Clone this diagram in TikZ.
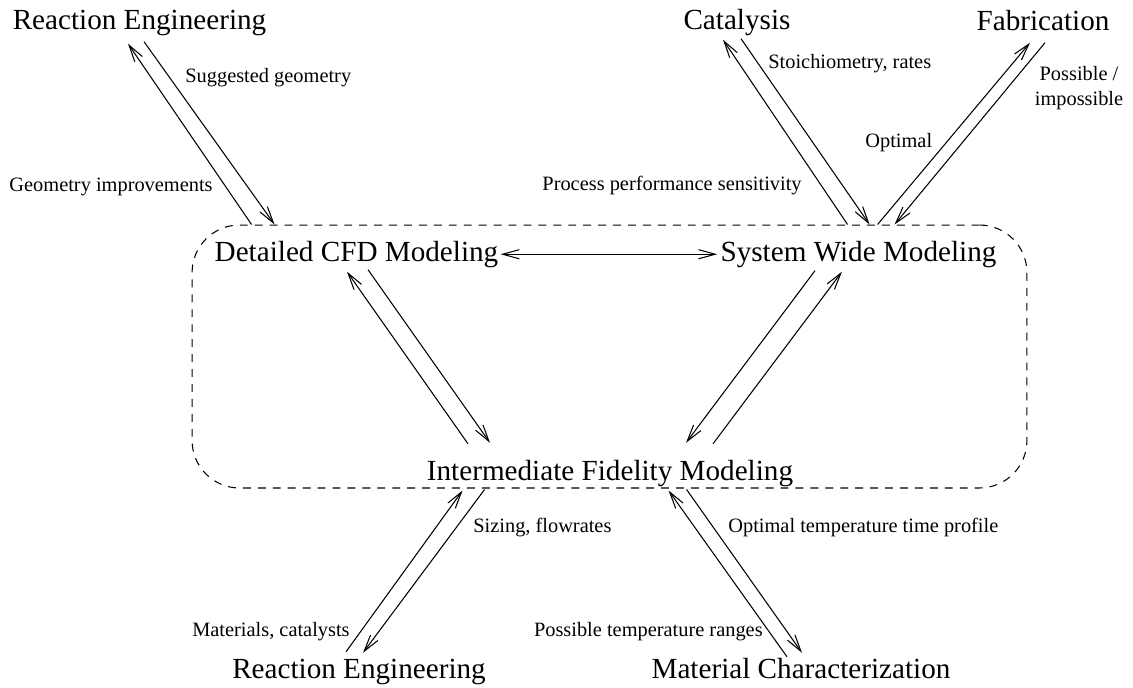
\documentclass[tikz,border=0pt]{standalone}
\usepackage{fontspec}
\setmainfont{Liberation Serif}
\usetikzlibrary{arrows.meta}

\begin{document}
\begin{tikzpicture}[
      x=0.02cm, y=-0.02cm,
      topic/.style={inner sep=0pt, anchor=base, text height=11.3pt, text depth=3.6pt,
        font=\fontsize{16.6}{19}\selectfont},
      note/.style={inner sep=0pt, font=\fontsize{11.6}{14}\selectfont},
      groupbox/.style={draw, line width=0.6pt, dash pattern=on 4.5pt off 4pt, rounded corners=0.95cm,
        minimum width=16.7cm, minimum height=5.26cm, inner sep=0pt},
      arrow/.style={-{Straight Barb[length=9.5pt,width=5.2pt]}, line width=0.6pt},
      twoway/.style={{Straight Barb[length=9.5pt,width=5.2pt]}-{Straight Barb[length=9.5pt,width=5.2pt]},
        line width=0.6pt}
    ]
    \useasboundingbox (0,0) rectangle (1133,687);

    \node[groupbox] (group) at (609.5,356.5) {};

    \node[topic] (reTop) at (139.5,29) {Reaction Engineering};
    \node[topic] (cat) at (737,29) {Catalysis};
    \node[topic] (fab) at (1043,30) {Fabrication};
    \node[topic] (cfd) at (356.5,261) {Detailed CFD Modeling};
    \node[topic] (sys) at (858.5,261) {System Wide Modeling};
    \node[topic] (int) at (610,480) {Intermediate Fidelity Modeling};
    \node[topic] (reBot) at (359,678) {Reaction Engineering};
    \node[topic] (mat) at (801,678) {Material Characterization};

    \node[note, anchor=base west] (lblSugg) at (185,82) {Suggested geometry};
    \node[note, anchor=base east] (lblImpr) at (213,191) {Geometry improvements};
    \node[note, anchor=base west] (lblStoich) at (768,68) {Stoichiometry, rates};
    \node[note, anchor=base east] (lblSens) at (802,190) {Process performance sensitivity};
    \node[note, anchor=base west] (lblOpt) at (865,147) {Optimal};
    \node[note, align=center] (lblPoss) at (1079,88) {Possible /\\impossible};
    \node[note, anchor=base west] (lblSize) at (473,532) {Sizing, flowrates};
    \node[note, anchor=base west] (lblProfile) at (728,532) {Optimal temperature time profile};
    \node[note, anchor=base east] (lblMat) at (350,636) {Materials, catalysts};
    \node[note, anchor=base east] (lblRange) at (763,636) {Possible temperature ranges};

    \draw[arrow] ([shift={(60,0)}]group.north west) -- ([shift={(-11.5,8)}]reTop.south);
    \draw[arrow] ([shift={(4.5,6)}]reTop.south) -- ([shift={(83,0)}]group.north west);
    \draw[arrow] ([shift={(656,0)}]group.north west) -- ([shift={(-14,4)}]cat.south);
    \draw[arrow] ([shift={(4,3)}]cat.south) -- ([shift={(678,0)}]group.north west);
    \draw[arrow] ([shift={(686,0)}]group.north west) -- ([shift={(-13,6)}]fab.south);
    \draw[arrow] ([shift={(2,6)}]fab.south) -- ([shift={(703,0)}]group.north west);

    \draw[twoway] ([shift={(2,0)}]cfd.east) -- ([shift={(-3,0)}]sys.west);
    \draw[arrow] ([shift={(-142,-16)}]int.north) -- ([shift={(-9.5,4)}]cfd.south);
    \draw[arrow] ([shift={(11.5,2)}]cfd.south) -- ([shift={(-120,-17)}]int.north);
    \draw[arrow] ([shift={(-43.5,3)}]sys.south) -- ([shift={(76,-17)}]int.north);
    \draw[arrow] ([shift={(103,-16)}]int.north) -- ([shift={(-16.5,4)}]sys.south);

    \draw[arrow] ([shift={(-13,-6)}]reBot.north) -- ([shift={(271,2)}]group.south west);
    \draw[arrow] ([shift={(293,1)}]group.south west) -- ([shift={(4,-5)}]reBot.north);
    \draw[arrow] ([shift={(-14,-1)}]mat.north) -- ([shift={(477,2)}]group.south west);
    \draw[arrow] ([shift={(495,1)}]group.south west) -- ([shift={(1,-5)}]mat.north);
  \end{tikzpicture}
\end{document}
